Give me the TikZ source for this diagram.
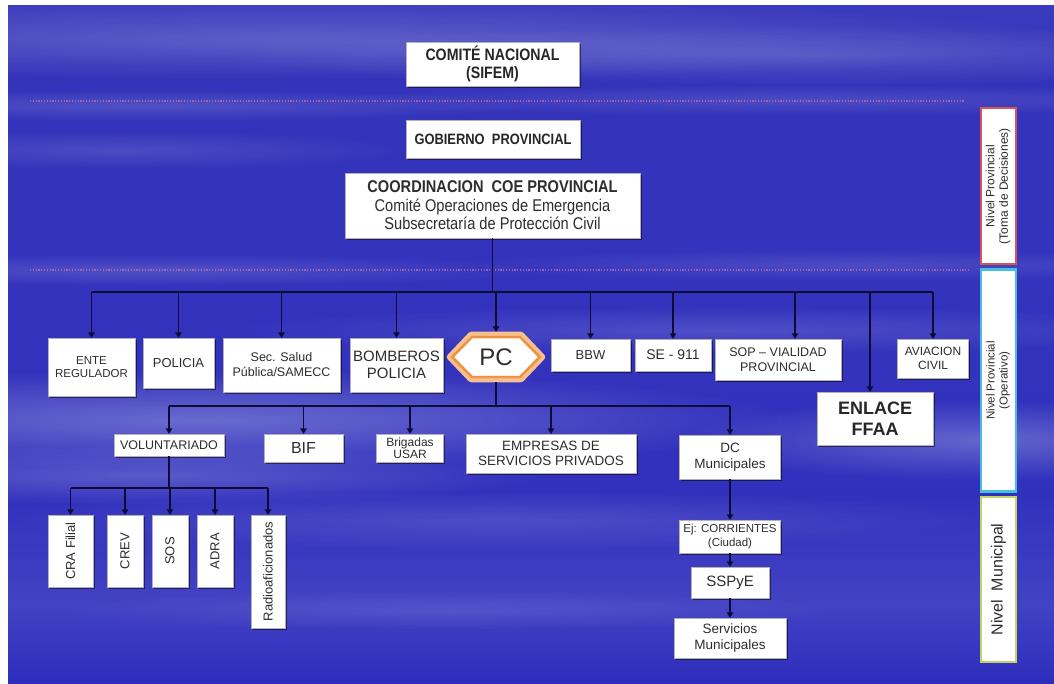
\documentclass[tikz,border=0pt]{standalone}
\usepackage{fontspec}
\usepackage{graphicx}
\setmainfont{Liberation Sans}
\newfontfamily\narrowf[FakeStretch=0.86]{Liberation Sans}
\usetikzlibrary{arrows.meta,shadows,fadings}
\definecolor{txtc}{RGB}{45,45,45}
\definecolor{linec}{RGB}{12,12,55}
\definecolor{barred}{RGB}{214,84,84}
\definecolor{barcyan}{RGB}{70,190,222}
\definecolor{bargreen}{RGB}{192,214,96}
\definecolor{dotc}{RGB}{205,110,165}
\definecolor{peach}{RGB}{248,190,140}
\definecolor{orng}{RGB}{236,146,66}
\pgfdeclareverticalshading{bgshade}{100bp}{%
rgb(0bp)=(0.12,0.12,0.72);
rgb(12bp)=(0.13,0.13,0.72);
rgb(24bp)=(0.16,0.16,0.73);
rgb(31bp)=(0.26,0.26,0.77);
rgb(39bp)=(0.19,0.19,0.74);
rgb(57bp)=(0.20,0.20,0.74);
rgb(71bp)=(0.20,0.20,0.73);
rgb(80bp)=(0.27,0.27,0.76);
rgb(87bp)=(0.38,0.38,0.81);
rgb(93bp)=(0.53,0.53,0.86);
rgb(97bp)=(0.66,0.66,0.90);
rgb(100bp)=(0.80,0.80,0.94)}
\tikzfading[name=cloudf, inner color=transparent!0, outer color=transparent!100]
\tikzset{
  box/.style={draw=black!30, line width=0.3pt, fill=white, inner sep=1pt,
    align=center, text=txtc,
    drop shadow={shadow xshift=1.6pt, shadow yshift=-1.6pt, opacity=0.5, fill=black}},
  fs/.style 2 args={font=\fontsize{#1}{#2}\selectfont},
  ln/.style={draw=linec, line width=1.4pt},
  arr/.style={ln, -{Triangle[width=6.5pt,length=5.5pt]}},
  sidebar/.style={fill=white, line width=2.6pt, minimum width=35pt, inner sep=0pt, text=txtc},
  cloud/.style={fill=white, path fading=cloudf, opacity=#1}
}
\begin{document}
\begin{tikzpicture}[x=1pt,y=-1pt]
\useasboundingbox (0,0) rectangle (1054,684);
\fill[white] (0,0) rectangle (1054,684);
\shade[shading=bgshade] (8,6) rectangle (1054,684);
% clouds
\begin{scope}
\clip (8,6) rectangle (1054,684);
\fill[cloud=0.20] (300,40) ellipse (800 and 40);
\fill[cloud=0.15] (820,55) ellipse (600 and 30);
\fill[cloud=0.15] (150,105) ellipse (400 and 16);
\fill[cloud=0.12] (800,100) ellipse (500 and 16);
\fill[cloud=0.12] (120,150) ellipse (300 and 20);
\fill[cloud=0.15] (150,270) ellipse (400 and 16);
\fill[cloud=0.12] (850,265) ellipse (400 and 16);
\fill[cloud=0.14] (720,330) ellipse (500 and 24);
\fill[cloud=0.28] (200,420) ellipse (600 and 50);
\fill[cloud=0.20] (150,475) ellipse (400 and 30);
\fill[cloud=0.25] (980,440) ellipse (300 and 40);
\fill[cloud=0.12] (500,520) ellipse (500 and 30);
\fill[cloud=0.10] (450,610) ellipse (400 and 20);
\end{scope}
% dotted level lines
\draw[dotc, line width=1.6pt, dash pattern=on 1.2pt off 1.6pt, opacity=0.7] (30,101) -- (965,101);
\draw[dotc, line width=1.6pt, dash pattern=on 1.2pt off 1.6pt, opacity=0.7] (30,270) -- (970,270);

% top boxes
\node[box, minimum width=173pt, minimum height=44pt, font={\narrowf\bfseries\fontsize{16.5}{18}\selectfont}, text=black!85] (nac) at (492.5,64) {COMITÉ NACIONAL\\(SIFEM)};
\node[box, minimum width=174pt, minimum height=38pt, font={\narrowf\bfseries\fontsize{15}{17}\selectfont}, text=black!85] (gob) at (493,139) {GOBIERNO\ \ PROVINCIAL};
\node[box, minimum width=295pt, minimum height=65pt, inner sep=0pt, font={\narrowf\fontsize{17}{18.5}\selectfont}] (coe) at (492.5,205.5) {{\bfseries COORDINACION\ \ COE PROVINCIAL}\\Comité Operaciones de Emergencia\\Subsecretaría de Protección Civil};

% second row
\node[box, minimum width=87pt, minimum height=58pt, fs={11.5}{13.5}] (ente) at (91.5,367) {ENTE\\REGULADOR};
\node[box, minimum width=71pt, minimum height=50pt, fs={13}{15}] (pol) at (178.5,363) {POLICIA};
\node[box, minimum width=117pt, minimum height=54pt, fs={12.5}{15}] (sal) at (281.5,365) {Sec. Salud\\Pública/SAMECC};
\node[box, minimum width=93pt, minimum height=54pt, fs={15}{17}] (bom) at (396.5,365) {BOMBEROS\\POLICIA};
\node[minimum width=96pt, minimum height=50pt, inner sep=0pt, fs={24}{26}, text=txtc] (pc) at (496,357) {};
\fill[white, shift={(pc.center)}] (-46,0) -- (-25,-22) -- (25,-22) -- (46,0) -- (25,22) -- (-25,22) -- cycle;
\draw[peach, line width=6.5pt, line join=round, shift={(pc.center)}] (-46,0) -- (-25,-22) -- (25,-22) -- (46,0) -- (25,22) -- (-25,22) -- cycle;
\draw[orng, line width=2.4pt, line join=round, shift={(pc.center)}] (-44,0) -- (-24,-20) -- (24,-20) -- (44,0) -- (24,20) -- (-24,20) -- cycle;
\node[fs={24}{26}, text=txtc] (pctext) at (pc.center) {PC};
\node[box, minimum width=79pt, minimum height=32pt, fs={13}{15}] (bbw) at (590.5,355) {BBW};
\node[box, minimum width=76pt, minimum height=32pt, fs={14}{16}] (se) at (673,355) {SE - 911};
\node[box, minimum width=126pt, minimum height=41pt, fs={12.5}{14.5}] (sop) at (778,359.5) {SOP – VIALIDAD\\PROVINCIAL};
\node[box, minimum width=116pt, minimum height=53pt, font={\bfseries\fontsize{18}{21}\selectfont}, text=black!85] (enl) at (875,418.5) {ENLACE\\FFAA};
\node[box, minimum width=71pt, minimum height=39pt, fs={12}{14}] (avi) at (933,358.5) {AVIACION\\CIVIL};

% third row
\node[box, minimum width=110pt, minimum height=22pt, fs={12.5}{14}] (vol) at (169,445) {VOLUNTARIADO};
\node[box, minimum width=79pt, minimum height=28pt, fs={16}{18}] (bif) at (303.5,448) {BIF};
\node[box, minimum width=67pt, minimum height=28pt, fs={12}{12.5}] (usar) at (410,448) {Brigadas\\USAR};
\node[box, minimum width=170pt, minimum height=39pt, fs={13.5}{15.5}] (emp) at (551,453.5) {EMPRESAS DE\\SERVICIOS PRIVADOS};
\node[box, minimum width=101pt, minimum height=44pt, fs={13.5}{16}] (dc) at (730,457) {DC\\Municipales};

% volunteers
\node[box, minimum width=45pt, minimum height=72pt, fs={13}{15}] (cra) at (70.5,551) {\rotatebox{90}{CRA Filial}};
\node[box, minimum width=36pt, minimum height=72pt, fs={13}{15}] (crev) at (125,551) {\rotatebox{90}{CREV}};
\node[box, minimum width=36pt, minimum height=72pt, fs={13}{15}] (sos) at (170,551) {\rotatebox{90}{SOS}};
\node[box, minimum width=36pt, minimum height=72pt, fs={13}{15}] (adra) at (215,551) {\rotatebox{90}{ADRA}};
\node[box, minimum width=34pt, minimum height=113pt, fs={13}{15}] (radio) at (268,571.5) {\rotatebox{90}{Radioaficionados}};

% municipal chain
\node[box, minimum width=101pt, minimum height=33pt, fs={11.5}{13.5}] (ej) at (730,536.5) {Ej: CORRIENTES\\(Ciudad)};
\node[box, minimum width=78pt, minimum height=31pt, fs={15}{17}] (ssp) at (730,582.5) {SSPyE};
\node[box, minimum width=112pt, minimum height=40pt, fs={13.5}{16}] (serv) at (730,638) {Servicios\\Municipales};

% side bars
\node[sidebar, draw=barred, minimum height=156pt, fs={12}{13.5}] (barR) at (998.5,186) {\rotatebox{90}{\begin{tabular}{@{}c@{}}Nivel Provincial\\(Toma de Decisiones)\end{tabular}}};
\node[sidebar, draw=barcyan, minimum height=222pt, fs={11.5}{13}] (barC) at (998.5,380.5) {\rotatebox{90}{\begin{tabular}{@{}c@{}}Nivel Provincial\\(Operativo)\end{tabular}}};
\node[sidebar, draw=bargreen, minimum height=165pt, fs={16}{18}] (barG) at (998.5,579.5) {\rotatebox{90}{Nivel\ \ Municipal}};

% connectors
\coordinate (bus1) at (0,292);
\coordinate (bus2) at (0,406);
\coordinate (bus3) at (0,488);
\coordinate (dE) at (870,292);
\draw[ln, line width=1.8pt] (coe.south) -- (coe.south |- bus1);
\draw[ln] (ente.north |- bus1) -- (avi.north |- bus1);
\foreach \n in {ente,pol,sal,bom,pc,bbw,se,avi}
  \draw[arr] (\n.north |- bus1) -- (\n.north);
\draw[arr] ([xshift=17pt]sop.north |- bus1) -- ([xshift=17pt]sop.north);
\draw[arr, line width=1.8pt] (dE) -- (dE |- enl.north);

\draw[ln] (pc.south) -- (pc.south |- bus2);
\draw[ln] (vol.north |- bus2) -- (dc.north |- bus2);
\foreach \n in {vol,bif,usar,emp,dc}
  \draw[arr] (\n.north |- bus2) -- (\n.north);

\draw[ln] (vol.south) -- (vol.south |- bus3);
\draw[ln] (cra.north |- bus3) -- (radio.north |- bus3);
\foreach \n in {cra,crev,sos,adra,radio}
  \draw[arr] (\n.north |- bus3) -- (\n.north);

\draw[arr] (dc.south) -- (ej.north);
\draw[arr] (ej.south) -- (ssp.north);
\draw[arr] (ssp.south) -- (serv.north);
\end{tikzpicture}
\end{document}
